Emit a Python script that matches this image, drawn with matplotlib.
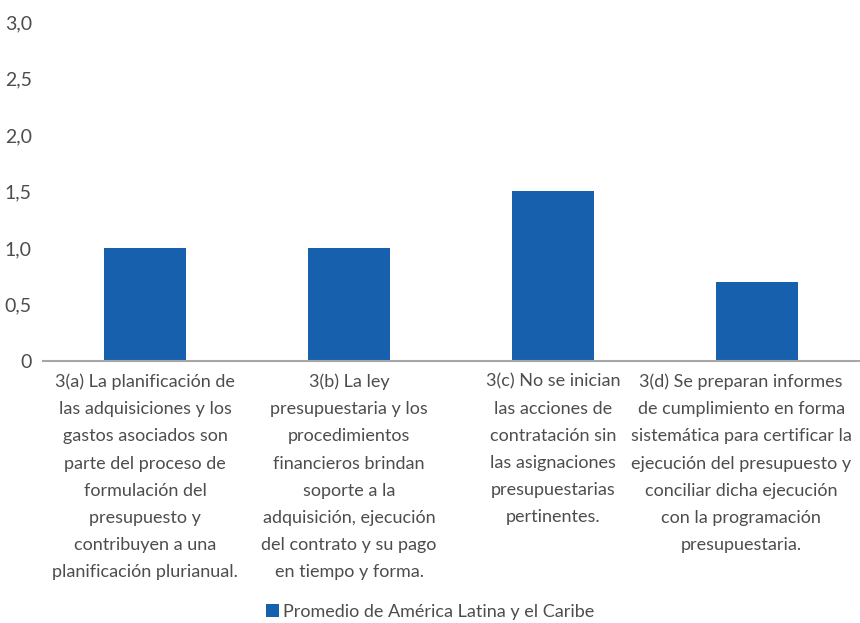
import numpy as np
import matplotlib.pyplot as plt
from matplotlib.patches import Patch
from matplotlib.transforms import ScaledTranslation

plt.rcParams["font.family"] = ["Lato", "DejaVu Sans"]

categories = [
    "3(a) La planificación de\nlas adquisiciones y los\ngastos asociados son\nparte del proceso de\nformulación del\npresupuesto y\ncontribuyen a una\nplanificación plurianual.",
    "3(b) La ley\npresupuestaria y los\nprocedimientos\nfinancieros brindan\nsoporte a la\nadquisición, ejecución\ndel contrato y su pago\nen tiempo y forma.",
    "3(c) No se inician\nlas acciones de\ncontratación sin\nlas asignaciones\npresupuestarias\npertinentes.",
    "3(d) Se preparan informes\nde cumplimiento en forma\nsistemática para certificar la\nejecución del presupuesto y\nconciliar dicha ejecución\ncon la programación\npresupuestaria.",
]
values = [1.0, 1.0, 1.5, 0.7]
series_name = "Promedio de América Latina y el Caribe"
yticks = [0, 0.5, 1.0, 1.5, 2.0, 2.5, 3.0]
ytick_labels = ["0", "0,5", "1,0", "1,5", "2,0", "2,5", "3,0"]

bar_color = "#1660ae"
text_color = "#4d4d4d"

fig = plt.figure(figsize=(8.6, 6.23), dpi=100)
ax = fig.add_axes([0.05, 0.4206, 0.949, 0.5441])

x = np.arange(len(categories))
ax.bar(x, values, width=0.4, color=bar_color)

ax.set_xlim(-0.5, len(categories) - 0.5)
ax.set_ylim(0, 3.0)
ax.set_yticks(yticks)
ax.set_yticklabels(ytick_labels, fontsize=14, color=text_color)
ax.set_xticks(x)
ax.set_xticklabels(categories, fontsize=13, color=text_color,
                   linespacing=1.86, va="top")
ax.tick_params(axis="both", length=0)
ax.tick_params(axis="x", pad=9)
ax.tick_params(axis="y", pad=8)

# the last label is wider than its slot, nudge it left so it stays inside
last = ax.get_xticklabels()[-1]
last.set_transform(last.get_transform() + ScaledTranslation(-0.16, 0, fig.dpi_scale_trans))

for side in ["top", "right", "left"]:
    ax.spines[side].set_visible(False)
ax.spines["bottom"].set_color("#a6a6a6")
ax.spines["bottom"].set_linewidth(1.5)

handle = Patch(facecolor=bar_color, label=series_name)
leg = fig.legend(handles=[handle], loc="center", bbox_to_anchor=(0.5, 0.018),
                 frameon=False, fontsize=13, handlelength=0.75, handleheight=0.75,
                 handletextpad=0.2)
for t in leg.get_texts():
    t.set_color(text_color)

fig.savefig("out.png", dpi=100)
